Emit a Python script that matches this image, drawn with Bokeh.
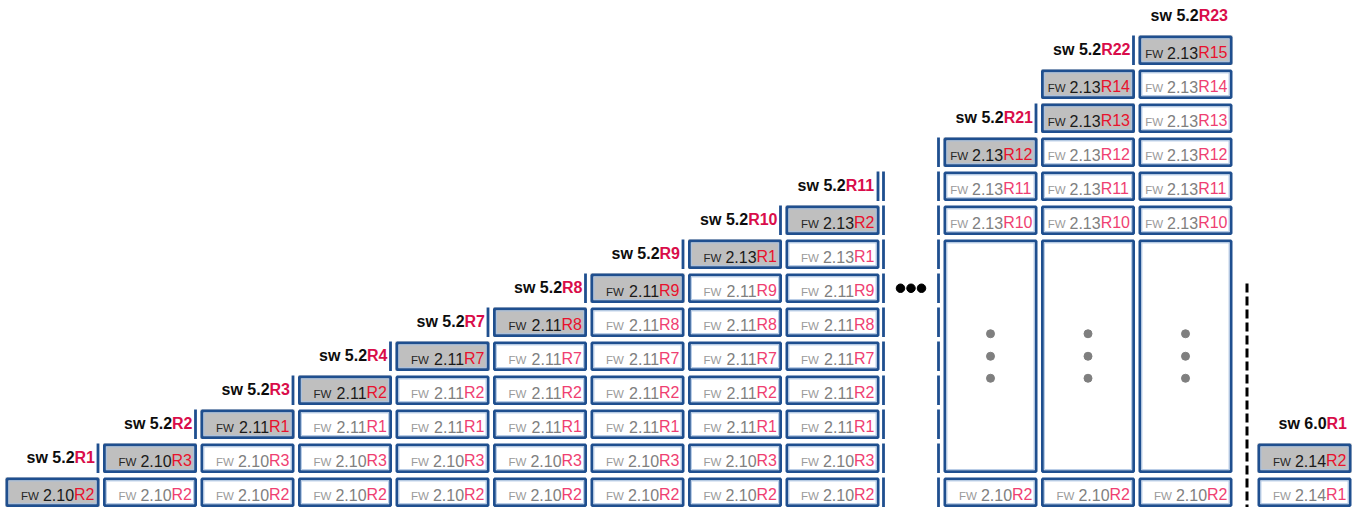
from bokeh.plotting import figure
from bokeh.models import Range1d, ColumnDataSource
from bokeh.core.properties import value
from bokeh.embed import file_html
from bokeh.resources import INLINE

# ---------------- data ----------------
main_fw = ["2.10R2", "2.10R3", "2.11R1", "2.11R2", "2.11R7", "2.11R8", "2.11R9", "2.13R1", "2.13R2"]
main_sw = ["5.2R1", "5.2R2", "5.2R3", "5.2R4", "5.2R7", "5.2R8", "5.2R9", "5.2R10", "5.2R11"]
right_fw_base = "2.10R2"
right_fw_upper = ["2.13R10", "2.13R11", "2.13R12", "2.13R13", "2.13R14", "2.13R15"]
right_top_row = [10, 12, 13]
right_shaded = [[10], [11, 12], [13]]
right_sw = ["5.2R21", "5.2R22", "5.2R23"]
right_sw_row = [11, 13, 14]
right_sw_bar = [True, True, False]
last_fw = ["2.14R1", "2.14R2"]
last_sw = "6.0R1"

# ---------------- layout ----------------
W, H = 1359, 507
X0, X1 = 0.0, 1359.0
Y0, Y1 = 0.0, 507.0
SX = W / (X1 - X0)

ROW_PITCH = 34.0
ROW0_TOP = 477.0
BOX_H = 29.5
BOX_W = 94.0
COL_PITCH = 97.5
MAIN_LEFT = 5.0
RIGHT_LEFT = 943.0
LAST_LEFT = 1257.0
TALL = (1, 7)
UPPER_START = 8

FONT = "Liberation Sans"
VER_FS, FW_FS, LAB_FS = 16.0, 11.5, 16.0
ADV = {"R": 0.722, ".": 0.278, " ": 0.278}
MID = 0.3465  # em offset baseline -> "middle"

BORDER = "#1f4f8f"
INNER = "#a9c2e2"
SHADE = "#bfbfbf"
RED_SHADED = "#e8122d"
RED_PLAIN = "#ef3f72"
RED_LABEL = "#d90d4a"


def tw(s, fs):
    return sum(ADV.get(c, 0.556) for c in s) * fs / SX


def row_top(r):
    return ROW0_TOP - ROW_PITCH * r


def row_mid(r):
    return row_top(r) + BOX_H / 2


def split(v):
    i = v.index("R")
    return v[:i], v[i:]


boxes = dict(left=[], right=[], top=[], bottom=[], fill=[])
fw_t = dict(x=[], y=[], text=[], color=[])
ver_t = dict(x=[], y=[], text=[], color=[])
r_t = dict(x=[], y=[], text=[], color=[])
lab_t = dict(x=[], y=[], text=[], color=[], align=[])
bars = dict(x0=[], y0=[], x1=[], y1=[])
dash_b = dict(x0=[], y0=[], x1=[], y1=[])
gdots = dict(x=[], y=[])


def add_box(left, r_lo, r_hi, label=None, shaded=False):
    top = row_top(r_hi)
    bot = row_top(r_lo) + BOX_H
    boxes["left"].append(left)
    boxes["right"].append(left + BOX_W)
    boxes["top"].append(top)
    boxes["bottom"].append(bot)
    boxes["fill"].append(SHADE if shaded else "white")
    if label is None:
        return
    ver, rp = split(label)
    end = left + BOX_W - 5
    xr = end - tw(rp, VER_FS)
    base = row_mid(r_lo) + 7.8
    yv = base - MID * VER_FS
    r_t["x"].append(xr); r_t["y"].append(yv); r_t["text"].append(rp)
    r_t["color"].append(RED_SHADED if shaded else RED_PLAIN)
    ver_t["x"].append(xr); ver_t["y"].append(yv); ver_t["text"].append(ver)
    ver_t["color"].append("#1a1a1a" if shaded else "#808080")
    xf = xr - tw(ver, VER_FS) - 4
    fw_t["x"].append(xf); fw_t["y"].append(base - MID * FW_FS); fw_t["text"].append("FW")
    fw_t["color"].append("#262626" if shaded else "#9a9a9a")


def add_label(left, row, sw, bar):
    ver, rp = split(sw)
    line_x = left + BOX_W - 1.5
    end = line_x - 3
    xr = end - tw(rp, LAB_FS)
    base = row_mid(row) + 5.0
    yb = base - MID * LAB_FS
    lab_t["x"] += [xr, xr]
    lab_t["y"] += [yb, yb]
    lab_t["text"] += ["sw " + ver, rp]
    lab_t["color"] += ["#0d0d0d", RED_LABEL]
    lab_t["align"] += ["right", "left"]
    if bar:
        bars["x0"].append(line_x); bars["x1"].append(line_x)
        bars["y0"].append(row_top(row)); bars["y1"].append(row_top(row) + BOX_H)


# main staircase
for k in range(len(main_fw)):
    left = MAIN_LEFT + COL_PITCH * k
    for r in range(k + 1):
        add_box(left, r, r, main_fw[r], shaded=(r == k))
    add_label(left, k + 1, main_sw[k], True)

# right block
for j in range(3):
    left = RIGHT_LEFT + COL_PITCH * j
    add_box(left, 0, 0, right_fw_base, False)
    add_box(left, TALL[0], TALL[1])
    cx = left + BOX_W / 2
    cy = (row_top(TALL[1]) + row_top(TALL[0]) + BOX_H) / 2
    for d in (-22.5, 0.0, 22.0):
        gdots["x"].append(cx); gdots["y"].append(cy + d)
    for r in range(UPPER_START, right_top_row[j] + 1):
        add_box(left, r, r, right_fw_upper[r - UPPER_START], shaded=(r in right_shaded[j]))
    add_label(left, right_sw_row[j], right_sw[j], right_sw_bar[j])

# last column
add_box(LAST_LEFT, 0, 0, last_fw[0], False)
add_box(LAST_LEFT, 1, 1, last_fw[1], True)
add_label(LAST_LEFT, 2, last_sw, False)

# segmented blue separators
xa = MAIN_LEFT + COL_PITCH * (len(main_fw) - 1) + BOX_W + 4
xb = RIGHT_LEFT - 5
for r in range(len(main_fw) + 1):
    dash_b["x0"].append(xa); dash_b["x1"].append(xa)
    dash_b["y0"].append(row_top(r)); dash_b["y1"].append(row_top(r) + BOX_H)
for r in range(right_top_row[0] + 1):
    dash_b["x0"].append(xb); dash_b["x1"].append(xb)
    dash_b["y0"].append(row_top(r)); dash_b["y1"].append(row_top(r) + BOX_H)

# ---------------- figure ----------------
p = figure(width=W, height=H, x_range=Range1d(X0, X1), y_range=Range1d(Y1, Y0),
           output_backend="svg", toolbar_location=None, min_border=0,
           x_axis_type=None, y_axis_type=None)
p.grid.visible = False
p.outline_line_color = None
p.background_fill_color = "white"

bsrc = ColumnDataSource(boxes)
p.quad(left="left", right="right", top="top", bottom="bottom", source=bsrc,
       fill_color="fill", line_color=None)
outer = ColumnDataSource(dict(
    left=[v + 1.4 for v in boxes["left"]], right=[v - 1.4 for v in boxes["right"]],
    top=[v + 1.4 for v in boxes["top"]], bottom=[v - 1.4 for v in boxes["bottom"]]))
p.quad(left="left", right="right", top="top", bottom="bottom", source=outer,
       fill_color=None, line_color=BORDER, line_width=2.8)
inner = ColumnDataSource(dict(
    left=[v + 3.4 for v in boxes["left"]], right=[v - 3.4 for v in boxes["right"]],
    top=[v + 3.4 for v in boxes["top"]], bottom=[v - 3.4 for v in boxes["bottom"]]))
p.quad(left="left", right="right", top="top", bottom="bottom", source=inner,
       fill_color=None, line_color=INNER, line_width=0.9)

p.segment(x0="x0", y0="y0", x1="x1", y1="y1", source=ColumnDataSource(bars),
          line_color=BORDER, line_width=2.8)
p.segment(x0="x0", y0="y0", x1="x1", y1="y1", source=ColumnDataSource(dash_b),
          line_color=BORDER, line_width=2.8)

# black dashed divider
xd = LAST_LEFT - 10.5
p.segment(x0=[xd], y0=[row_top(6) + 10], x1=[xd], y1=[Y1], line_color="black",
          line_width=3, line_dash="9 4")

# ellipsis dots
xm = (xa + xb) / 2
p.scatter(x=[xm - 10.5, xm, xm + 10.5], y=[row_mid(6)] * 3, size=8.5,
          marker="circle", color="black")
p.scatter(x="x", y="y", source=ColumnDataSource(gdots), size=8,
          marker="circle", color="#7f7f7f")

p.text(x="x", y="y", text="text", text_color="color", source=ColumnDataSource(r_t),
       text_align="left", text_baseline="middle",
       text_font=value(FONT), text_font_size=value(f"{VER_FS}px"))
p.text(x="x", y="y", text="text", text_color="color", source=ColumnDataSource(ver_t),
       text_align="right", text_baseline="middle",
       text_font=value(FONT), text_font_size=value(f"{VER_FS}px"))
p.text(x="x", y="y", text="text", text_color="color", source=ColumnDataSource(fw_t),
       text_align="right", text_baseline="middle",
       text_font=value(FONT), text_font_size=value(f"{FW_FS}px"))
p.text(x="x", y="y", text="text", text_color="color", text_align="align",
       source=ColumnDataSource(lab_t), text_baseline="middle",
       text_font=value(FONT), text_font_style="bold",
       text_font_size=value(f"{LAB_FS}px"))

open("out.html", "w").write(file_html(p, INLINE))
